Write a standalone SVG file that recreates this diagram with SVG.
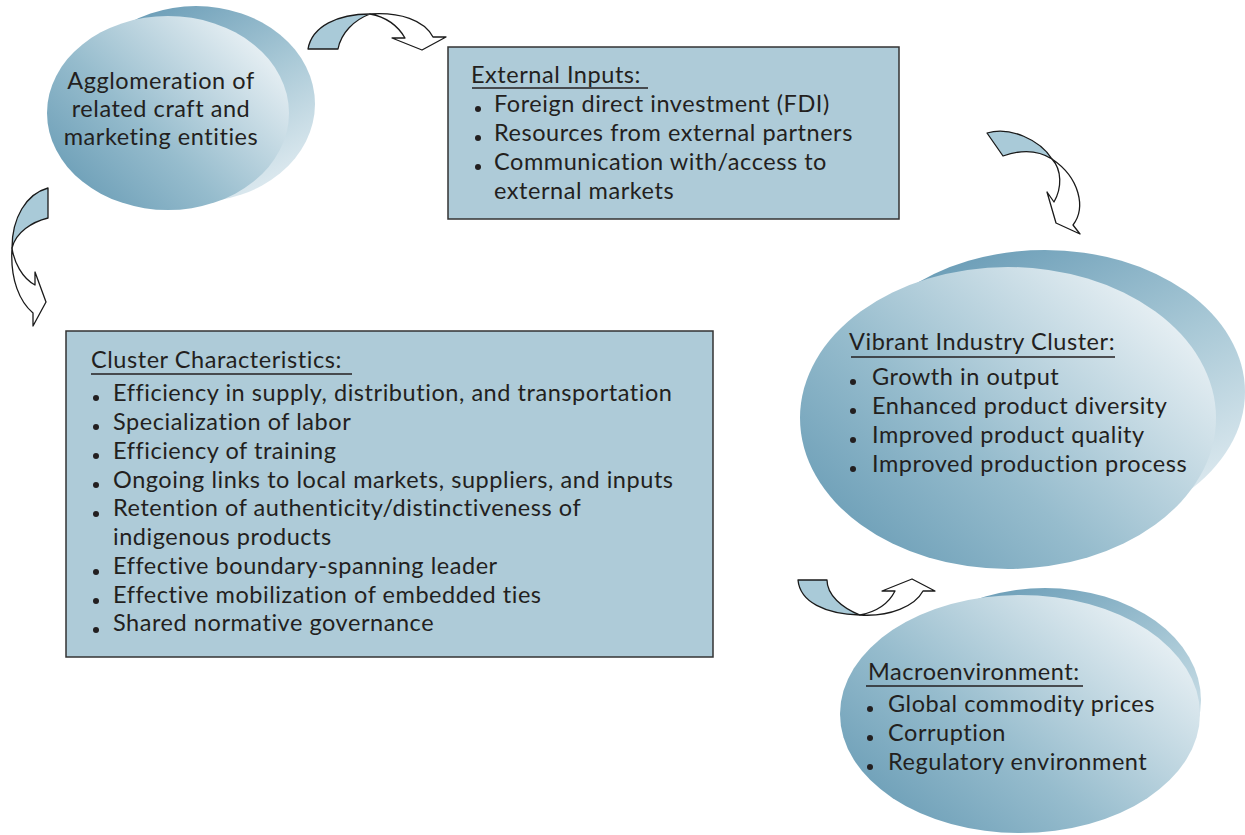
<svg xmlns="http://www.w3.org/2000/svg" width="1245" height="835" viewBox="0 0 1245 835">
<style>
.t{font-family:Lato,"Liberation Sans",sans-serif;font-size:23.5px;letter-spacing:0.55px;fill:#231f20}
.box{fill:#aecbd8;stroke:#333;stroke-width:1.5}
.ul{stroke:#231f20;stroke-width:1.3}
.b{fill:#231f20}
.arrB{fill:#a9cad8;stroke:#1a1a1a;stroke-width:1.3;stroke-linejoin:round}
.arrW{fill:#fff;stroke:#1a1a1a;stroke-width:1.3;stroke-linejoin:round}
.front{fill:url(#gFront)}
.back{fill:url(#gBack)}
</style>
<defs>
<linearGradient id="gFront" x1="0" y1="1" x2="1" y2="0.2">
<stop offset="0" stop-color="#5f95b0"/>
<stop offset="0.45" stop-color="#96bccd"/>
<stop offset="1" stop-color="#eef4f7"/>
</linearGradient>
<linearGradient id="gBack" x1="0.2" y1="0" x2="0.9" y2="1">
<stop offset="0" stop-color="#6599b4"/>
<stop offset="0.5" stop-color="#a8c8d6"/>
<stop offset="1" stop-color="#e9f1f5"/>
</linearGradient>
</defs>
<rect width="1245" height="835" fill="#fff"/>

<g id="agglomeration">
<ellipse class="back" cx="196" cy="104" rx="119" ry="98"/>
<ellipse class="front" cx="168" cy="113" rx="121" ry="97"/>
<text class="t" x="161" y="89" text-anchor="middle">Agglomeration of</text>
<text class="t" x="161" y="117" text-anchor="middle">related craft and</text>
<text class="t" x="161" y="145" text-anchor="middle">marketing entities</text>
</g>

<g id="external-inputs">
<rect class="box" x="448" y="47" width="451" height="172"/>
<text class="t" x="471" y="83">External Inputs:</text>
<line class="ul" x1="472" y1="88" x2="648" y2="88"/>
<circle class="b" cx="478" cy="109" r="3"/>
<text class="t" x="494" y="112">Foreign direct investment (FDI)</text>
<circle class="b" cx="478" cy="138" r="3"/>
<text class="t" x="494" y="141">Resources from external partners</text>
<circle class="b" cx="478" cy="167" r="3"/>
<text class="t" x="494" y="170">Communication with/access to</text>
<text class="t" x="494" y="199">external markets</text>
</g>

<g id="cluster-characteristics">
<rect class="box" x="66" y="331" width="647" height="326"/>
<text class="t" x="91" y="368">Cluster Characteristics:</text>
<line class="ul" x1="91" y1="374" x2="352" y2="374"/>
<circle class="b" cx="96" cy="398" r="3"/>
<text class="t" x="113" y="401">Efficiency in supply, distribution, and transportation</text>
<circle class="b" cx="96" cy="427" r="3"/>
<text class="t" x="113" y="430">Specialization of labor</text>
<circle class="b" cx="96" cy="456" r="3"/>
<text class="t" x="113" y="459">Efficiency of training</text>
<circle class="b" cx="96" cy="485" r="3"/>
<text class="t" x="113" y="488">Ongoing links to local markets, suppliers, and inputs</text>
<circle class="b" cx="96" cy="514" r="3"/>
<text class="t" x="113" y="516">Retention of authenticity/distinctiveness of</text>
<text class="t" x="113" y="545">indigenous products</text>
<circle class="b" cx="96" cy="572" r="3"/>
<text class="t" x="113" y="574">Effective boundary-spanning leader</text>
<circle class="b" cx="96" cy="601" r="3"/>
<text class="t" x="113" y="603">Effective mobilization of embedded ties</text>
<circle class="b" cx="96" cy="630" r="3"/>
<text class="t" x="113" y="631">Shared normative governance</text>
</g>

<g id="vibrant-industry-cluster">
<ellipse class="back" cx="1045" cy="392" rx="200" ry="142"/>
<ellipse class="front" cx="1008" cy="418" rx="208" ry="151"/>
<text class="t" x="849" y="350">Vibrant Industry Cluster:</text>
<line class="ul" x1="851" y1="357" x2="1115" y2="357"/>
<circle class="b" cx="853" cy="382" r="3"/>
<text class="t" x="872" y="385">Growth in output</text>
<circle class="b" cx="853" cy="411" r="3"/>
<text class="t" x="872" y="414">Enhanced product diversity</text>
<circle class="b" cx="853" cy="440" r="3"/>
<text class="t" x="872" y="443">Improved product quality</text>
<circle class="b" cx="853" cy="469" r="3"/>
<text class="t" x="872" y="472">Improved production process</text>
</g>

<g id="macroenvironment">
<ellipse class="back" cx="1045" cy="700" rx="156" ry="112"/>
<ellipse class="front" cx="1020" cy="714" rx="180" ry="119"/>
<text class="t" x="868" y="680">Macroenvironment:</text>
<line class="ul" x1="866" y1="686" x2="1083" y2="686"/>
<circle class="b" cx="870" cy="709" r="3"/>
<text class="t" x="888" y="712">Global commodity prices</text>
<circle class="b" cx="870" cy="738" r="3"/>
<text class="t" x="888" y="741">Corruption</text>
<circle class="b" cx="870" cy="767" r="3"/>
<text class="t" x="888" y="770">Regulatory environment</text>
</g>

<g id="connectors">
<!-- top arrow: agglomeration -> external inputs -->
<path class="arrW" d="M370,14 C400,12 424,20 433,37 L446,37 L422,50 L392,38 L405,38 C398,26 386,17 370,14 Z"/>
<path class="arrB" d="M308,49 C312,26 338,14 370,14 C354,20 341,33 338,49 Z"/>
<!-- left arrow: agglomeration -> cluster characteristics -->
<path class="arrW" d="M12,248 C10,280 20,302 33,313 L33,326 L46,302 L35,272 L35,285 C22,278 14,262 12,248 Z"/>
<path class="arrB" d="M48,188 L48,218 C32,222 16,232 12,248 C12,218 26,194 48,188 Z"/>
<!-- right arrow: external inputs -> vibrant -->
<path class="arrW" d="M1052,159 C1080,178 1086,208 1073,225 L1080,234 L1056,223 L1047,192 L1054,202 C1062,188 1062,170 1052,159 Z"/>
<path class="arrB" d="M987,133 L1003,156 C1020,150 1038,150 1052,159 C1040,140 1010,126 987,133 Z"/>
<!-- bottom right arrow: macroenvironment -> vibrant -->
<path class="arrW" d="M860,615 C890,617 915,606 923,591 L935,591 L912,579 L882,591 L895,591 C888,605 875,612 860,615 Z"/>
<path class="arrB" d="M798,580 L827,580 C827,595 842,608 860,615 C825,614 800,602 798,580 Z"/>
</g>
</svg>
